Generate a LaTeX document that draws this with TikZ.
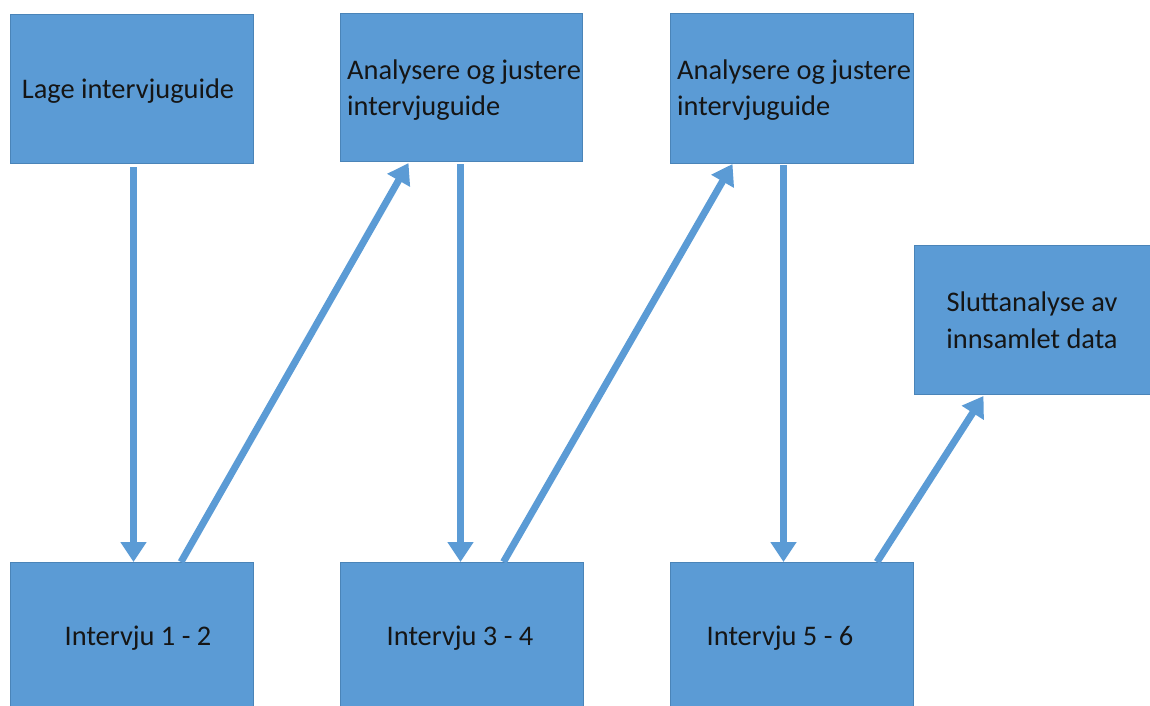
\documentclass[tikz,border=0pt]{standalone}
\usepackage{fontspec}
\setmainfont{Carlito}
\usetikzlibrary{arrows.meta}
\definecolor{boxblue}{HTML}{5B9BD5}
\definecolor{boxedge}{HTML}{4A84B8}
\definecolor{txt}{HTML}{151515}
\tikzset{
  stepbox/.style={draw=boxedge, line width=1pt, fill=boxblue, minimum width=243pt, minimum height=149pt, inner sep=0pt, anchor=north west},
  lbl/.style={text=txt, font=\fontsize{28.4}{36.5}\selectfont, inner sep=0pt},
  flow/.style={draw=boxblue, line width=7pt, -{Triangle[length=20pt,width=25pt]}}
}
\begin{document}
\begin{tikzpicture}[x=1pt, y=-1pt]
  \useasboundingbox (0,0) rectangle (1150,706);
  \clip (0,0) rectangle (1150,706);
  % planning and analysis steps
  \node[stepbox] (plan) at (10,14) {};
  \node[stepbox, minimum width=242pt, minimum height=148pt] (adj1) at (340,13) {};
  \node[stepbox, minimum height=150pt] (adj2) at (670,13) {};
  \node[stepbox, minimum width=245pt] (final) at (914,245) {};
  % interview rounds
  \node[stepbox, minimum height=160pt] (int1) at (10,562) {};
  \node[stepbox, minimum height=160pt] (int2) at (340,562) {};
  \node[stepbox, minimum height=160pt] (int3) at (670,562) {};
  % labels
  \node[lbl] (tplan) at (128,91) {Lage intervjuguide};
  \node[lbl, align=left, anchor=west] (tadj1) at (347,90) {Analysere og justere\\intervjuguide};
  \node[lbl, align=left, anchor=west] (tadj2) at (677,90) {Analysere og justere\\intervjuguide};
  \node[lbl, align=center] (tfinal) at (1032,320) {Sluttanalyse av\\innsamlet data};
  \node[lbl] (tint1) at (138,638) {Intervju 1 - 2};
  \node[lbl] (tint2) at (460,638) {Intervju 3 - 4};
  \node[lbl] (tint3) at (780,638) {Intervju 5 - 6};
  % flow between steps
  \draw[flow] ([xshift=1.5pt,yshift=-3pt]plan.south) -- ([xshift=1.5pt]int1.north);
  \draw[flow] ([xshift=49pt]int1.north) -- ([xshift=-53pt,yshift=-1pt]adj1.south);
  \draw[flow] ([xshift=-1pt,yshift=-2pt]adj1.south) -- ([xshift=-1.5pt]int2.north);
  \draw[flow] ([xshift=41.5pt]int2.north) -- ([xshift=-59.5pt]adj2.south);
  \draw[flow] ([xshift=-8.5pt,yshift=-1pt]adj2.south) -- ([xshift=-8.5pt]int3.north);
  \draw[flow] ([xshift=85pt]int3.north) -- ([xshift=-53.5pt,yshift=-1pt]final.south);
\end{tikzpicture}
\end{document}
